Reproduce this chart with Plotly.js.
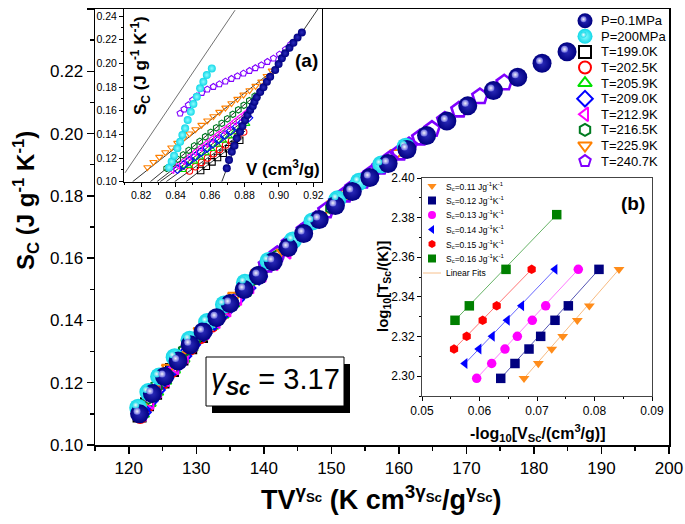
<!DOCTYPE html>
<html><head><meta charset="utf-8">
<script src="https://cdn.plot.ly/plotly-3.0.1.min.js"></script>
<style>html,body{margin:0;padding:0;background:#fff}#chart{width:685px;height:524px}</style>
</head><body><div id="chart"></div>
<script>
// ================= DATA =================
// Main panel: S_c vs T*V^gamma
const navyMainX = [121.6,123.5,125.3,127.3,129.1,131.0,133.0,135.0,137.1,139.2,141.4,143.6,145.9,148.2,150.6,153.1,155.7,158.4,161.2,164.1,167.1,170.2,174.0,177.6,181.2,184.9];
const navyMainS = [0.1100,0.1165,0.1220,0.1270,0.1322,0.1364,0.1409,0.1454,0.1499,0.1544,0.1589,0.1634,0.1679,0.1724,0.1769,0.1814,0.1859,0.1904,0.1949,0.1994,0.2040,0.2089,0.2138,0.2181,0.2226,0.2263];
const cyanMainX = [121.4,122.9,124.5,126.8,129.0,131.6,134.1,137.2,140.7,144.3,147.2,150.9,154.1,157.4,161.0];

// Inset (a): S_c vs V
const navyV = [0.8697,0.8710,0.8726,0.8741,0.8755,0.8774,0.8788,0.8803,0.8817,0.8833,0.8848,0.8858,0.8871,0.8891,0.8910,0.8930,0.8949,0.8978,0.8998,0.9017,0.9036,0.9061,0.9084,0.9108,0.9133];
const navyS = [0.1113,0.1183,0.1253,0.1304,0.1367,0.1422,0.1471,0.1521,0.1564,0.1606,0.1640,0.1676,0.1713,0.1758,0.1798,0.1845,0.1887,0.1944,0.1994,0.2043,0.2085,0.2132,0.2174,0.2220,0.2262];
const cyanV = [0.8362,0.8377,0.8391,0.8410,0.8426,0.8439,0.8455,0.8470,0.8488,0.8503,0.8523,0.8542,0.8561,0.8581,0.8610];
const cyanS = [0.1120,0.1170,0.1220,0.1282,0.1338,0.1395,0.1451,0.1521,0.1591,0.1657,0.1718,0.1789,0.1845,0.1901,0.1958];

const t199V = [0.8545,0.8578,0.8611,0.8643,0.8676,0.8709,0.8741,0.8772];
const t199S = [0.1095,0.1131,0.1168,0.1204,0.1241,0.1278,0.1314,0.1350];
const t199X = [121.6,122.7,123.9,125.0,126.4,127.8,129.1,130.7];

const t202V = [0.8480,0.8515,0.8550,0.8585,0.8620,0.8655,0.8690,0.8725,0.8760,0.8795];
const t202S = [0.1090,0.1127,0.1163,0.1200,0.1236,0.1273,0.1310,0.1346,0.1383,0.1420];
const t202X = [121.7,122.8,123.8,125.0,126.3,127.8,129.1,130.6,132.3,133.8];

const t205V = [0.8440,0.8474,0.8507,0.8541,0.8574,0.8608,0.8642,0.8675,0.8709,0.8742,0.8776,0.8810];
const t205S = [0.1100,0.1135,0.1171,0.1206,0.1242,0.1277,0.1313,0.1348,0.1384,0.1419,0.1455,0.1490];
const t205X = [122.0,123.0,124.1,125.3,126.6,128.0,129.2,130.7,132.3,133.8,135.4,137.1];

const t209V = [0.8410,0.8445,0.8479,0.8514,0.8548,0.8583,0.8617,0.8652,0.8686,0.8720,0.8755,0.8789,0.8823];
const t209S = [0.1105,0.1141,0.1177,0.1214,0.1250,0.1286,0.1322,0.1359,0.1395,0.1431,0.1467,0.1504,0.1540];
const t209X = [122.1,123.1,124.2,125.4,126.8,128.1,129.4,131.1,132.7,134.3,135.9,137.6,139.3];

const t212V = [0.8380,0.8413,0.8446,0.8479,0.8512,0.8545,0.8578,0.8611,0.8644,0.8677,0.8710,0.8743,0.8776,0.8809,0.8842];
const t212S = [0.1100,0.1137,0.1174,0.1211,0.1249,0.1286,0.1323,0.1360,0.1397,0.1434,0.1471,0.1509,0.1546,0.1583,0.1620];
const t212X = [122.1,123.2,124.3,125.5,126.9,128.3,129.6,131.3,133.0,134.6,136.2,138.0,139.8,141.6,143.5];

const t216V = [0.8348,0.8380,0.8412,0.8444,0.8476,0.8508,0.8540,0.8572,0.8604,0.8636,0.8668,0.8700,0.8732,0.8764,0.8796,0.8828,0.8860,0.8891];
const t216S = [0.1113,0.1151,0.1189,0.1227,0.1265,0.1303,0.1341,0.1380,0.1418,0.1456,0.1494,0.1532,0.1570,0.1608,0.1646,0.1685,0.1723,0.1761];
const t216X = [121.8,122.9,124.1,125.4,126.9,128.2,129.8,131.5,133.2,134.9,136.7,138.4,140.1,142.1,143.8,145.7,147.9,150.0];

const t225V = [0.8236,0.8271,0.8305,0.8340,0.8375,0.8410,0.8445,0.8480,0.8515,0.8550,0.8584,0.8619,0.8654,0.8689,0.8724,0.8759,0.8794,0.8829,0.8864,0.8898,0.8929,0.8959];
const t225S = [0.1121,0.1166,0.1209,0.1248,0.1288,0.1327,0.1366,0.1406,0.1442,0.1479,0.1516,0.1552,0.1589,0.1625,0.1662,0.1699,0.1735,0.1772,0.1809,0.1845,0.1893,0.1938];
const t225X = [121.7,123.0,124.4,125.9,127.4,128.8,130.6,132.4,134.0,135.7,137.3,139.1,140.9,142.7,144.5,146.4,148.3,150.3,152.3,154.4,157.2,159.7];

const t240V = [0.8426,0.8449,0.8474,0.8499,0.8523,0.8552,0.8584,0.8619,0.8654,0.8689,0.8724,0.8759,0.8794,0.8829,0.8863,0.8898,0.8933,0.8968,0.9003,0.9038,0.9069];
const t240S = [0.1578,0.1612,0.1648,0.1690,0.1724,0.1752,0.1781,0.1803,0.1825,0.1848,0.1870,0.1893,0.1916,0.1938,0.1961,0.1986,0.2014,0.2043,0.2076,0.2119,0.2163];
const t240X = [140.4,142.0,143.8,146.0,147.7,149.2,150.8,152.0,153.2,154.6,155.9,157.2,158.6,160.1,161.5,163.1,164.9,166.8,168.9,172.0,175.6];

// Inset (a) fitted straight lines: [V0, S0, V1, S1]
const fit199 = [0.8460,0.100,0.8790,0.1370];
const fit202 = [0.8394,0.100,0.8805,0.1430];
const fit205 = [0.8345,0.100,0.8820,0.1500];
const fit209 = [0.8310,0.100,0.8835,0.1553];
const fit212 = [0.8291,0.100,0.8860,0.1640];
const fit216 = [0.8253,0.100,0.8905,0.1778];
const fit225 = [0.8150,0.100,0.9000,0.1980];
const fitNavyLow = [0.8668,0.100,0.8850,0.1700];
const fitNavyHigh = [0.8800,0.155,0.9250,0.2510];
const fitExtra = [0.8106,0.1075,0.8745,0.245];

// Inset (b): log10(T_Sc) vs -log10(V_Sc)
const sc011X = [0.06774,0.07023,0.07256,0.07447,0.07701,0.07910,0.08426];
const sc011Y = [2.2989,2.3064,2.3137,2.3201,2.3282,2.3355,2.3539];
const sc012X = [0.06369,0.06617,0.06861,0.07064,0.07313,0.07545,0.08078];
const sc012Y = [2.2989,2.3064,2.3137,2.3201,2.3282,2.3355,2.3539];
const sc013X = [0.05951,0.06212,0.06443,0.06658,0.06918,0.07151,0.07718];
const sc013Y = [2.2989,2.3064,2.3137,2.3201,2.3282,2.3355,2.3539];
const sc014X = [0.05748,0.05991,0.06223,0.06484,0.06734,0.07313];
const sc014Y = [2.3064,2.3137,2.3201,2.3282,2.3355,2.3539];
const sc015X = [0.05557,0.05777,0.06055,0.06299,0.06907];
const sc015Y = [2.3137,2.3201,2.3282,2.3355,2.3539];
const sc016X = [0.05574,0.05823,0.06461,0.07343];
const sc016Y = [2.3282,2.3355,2.3539,2.3815];

const mainLegendLabels = ['P=0.1MPa','P=200MPa','T=199.0K','T=202.5K','T=205.9K','T=209.0K','T=212.9K','T=216.5K','T=225.9K','T=240.7K'];
const insetBLegendLabels = ['S<sub>c</sub>=0.11 Jg<sup>-1</sup>K<sup>-1</sup>','S<sub>c</sub>=0.12 Jg<sup>-1</sup>K<sup>-1</sup>','S<sub>c</sub>=0.13 Jg<sup>-1</sup>K<sup>-1</sup>','S<sub>c</sub>=0.14 Jg<sup>-1</sup>K<sup>-1</sup>','S<sub>c</sub>=0.15 Jg<sup>-1</sup>K<sup>-1</sup>','S<sub>c</sub>=0.16 Jg<sup>-1</sup>K<sup>-1</sup>','Linear Fits'];
const gammaValue = '3.17';

// ================= STYLE / LAYOUT =================
const W = 685, H = 524;
const FONT = 'Arial, "Liberation Sans", sans-serif';
const fx = p => p / W;
const fy = p => 1 - p / H;
const MAIN = {l:95, r:669, t:9, b:445};
const INA = {l:124, r:322, t:9, b:181.7};
const INB = {l:422, r:652, t:178, b:396};

const NAVY = '#000080', NAVY_C = '#2a2ab8';
const CYAN = '#10d8e8', CYAN_C = '#8ffcff';
const iso = [
  {x:t199X, v:t199V, s:t199S, sym:'square-open', col:'#000000', fit:fit199},
  {x:t202X, v:t202V, s:t202S, sym:'circle-open', col:'#ff0000', fit:fit202},
  {x:t205X, v:t205V, s:t205S, sym:'triangle-up-open', col:'#00e000', fit:fit205},
  {x:t209X, v:t209V, s:t209S, sym:'diamond-open', col:'#0000ff', fit:fit209},
  {x:t212X, v:t212V, s:t212S, sym:'triangle-left-open', col:'#ff00ff', fit:fit212},
  {x:t216X, v:t216V, s:t216S, sym:'hexagon-open', col:'#007a20', fit:fit216},
  {x:t225X, v:t225V, s:t225S, sym:'triangle-down-open', col:'#ff8000', fit:fit225},
  {x:t240X, v:t240V, s:t240S, sym:'pentagon-open', col:'#8000ff', fit:null}
];

const traces = [];
const sphere = (x, y, xa, ya, size, edge, center) => ({
  x, y, xaxis:xa, yaxis:ya, mode:'markers', showlegend:false, hoverinfo:'skip',
  marker:{size, color:edge, line:{width:0}, gradient:{type:'radial', color:center}}
});
const hilite = (x, y, xa, ya, size, edge) => ({
  x, y, xaxis:xa, yaxis:ya, mode:'markers', showlegend:false, hoverinfo:'skip',
  marker:{size, color:edge, opacity:0.95, line:{width:0}, gradient:{type:'radial', color:'#ffffff'}}
});
const fitLine = (f, xa, ya, col, w) => ({
  x:[f[0], f[2]], y:[f[1], f[3]], xaxis:xa, yaxis:ya, mode:'lines', showlegend:false, hoverinfo:'skip',
  line:{color:col, width:w}
});

// ---- main panel ----
iso.forEach((d, i) => {
  const big = i === 7;
  traces.push({x:d.x, y:d.s, xaxis:'x', yaxis:'y', mode:'markers', showlegend:false, hoverinfo:'skip',
    marker:{symbol:d.sym, color:d.col, size: big ? 16 : 12, line:{width: big ? 2.6 : 2}}});
});
traces.push(sphere(cyanMainX, cyanS, 'x', 'y', 18, CYAN, CYAN_C));
traces.push(sphere(navyMainX, navyMainS, 'x', 'y', 19, NAVY, NAVY_C));
traces.push(hilite(cyanMainX, cyanS, 'x5', 'y5', 7, CYAN));
traces.push(hilite(navyMainX, navyMainS, 'x5', 'y5', 7, '#6a6ae0'));

// ---- inset (a) ----
iso.forEach(d => { if (d.fit) traces.push(fitLine(d.fit, 'x2', 'y2', '#000', 0.8)); });
traces.push(fitLine(fitNavyLow, 'x2', 'y2', '#000', 0.8));
traces.push(fitLine(fitNavyHigh, 'x2', 'y2', '#000', 0.8));
traces.push(fitLine(fitExtra, 'x2', 'y2', '#333', 0.7));
iso.forEach(d => {
  traces.push({x:d.v, y:d.s, xaxis:'x2', yaxis:'y2', mode:'markers', showlegend:false, hoverinfo:'skip',
    marker:{symbol:d.sym, color:d.col, size:6.5, line:{width:1.1}}});
});
traces.push(sphere(cyanV, cyanS, 'x2', 'y2', 8, CYAN, CYAN_C));
traces.push(sphere(navyV, navyS, 'x2', 'y2', 8, NAVY, NAVY_C));

// ---- inset (b) ----
const bSeries = [
  {x:sc011X, y:sc011Y, sym:'triangle-down', col:'#ff8c1a', fit:'#f5a860'},
  {x:sc012X, y:sc012Y, sym:'square', col:'#000080', fit:'#2a2aa0'},
  {x:sc013X, y:sc013Y, sym:'circle', col:'#ff00ff', fit:'#ff55ff'},
  {x:sc014X, y:sc014Y, sym:'triangle-left', col:'#0000ff', fit:'#4040ff'},
  {x:sc015X, y:sc015Y, sym:'hexagon', col:'#ff0000', fit:'#ff5050'},
  {x:sc016X, y:sc016Y, sym:'square', col:'#008000', fit:'#40a040'}
];
bSeries.forEach(d => {
  traces.push({x:[d.x[0], d.x[d.x.length-1]], y:[d.y[0], d.y[d.y.length-1]], xaxis:'x3', yaxis:'y3',
    mode:'lines', showlegend:false, hoverinfo:'skip', line:{color:d.fit, width:0.8}});
});
bSeries.forEach(d => {
  traces.push({x:d.x, y:d.y, xaxis:'x3', yaxis:'y3', mode:'markers', showlegend:false, hoverinfo:'skip',
    marker:{symbol:d.sym, color:d.col, size:9.5, line:{width:0}}});
});

// ---- hand-built legends on a full-figure pixel overlay (x4/y4) ----
const LEG = {mx:585, tx:599, y0:20.7, step:15.6};
const legStyles = [
  {type:'sphere', edge:NAVY, center:NAVY_C, hl:'#6a6ae0'},
  {type:'sphere', edge:CYAN, center:CYAN_C, hl:CYAN}
].concat(iso.map(d => ({type:'open', sym:d.sym, col:d.col})));
const annotations = [];
mainLegendLabels.forEach((lab, i) => {
  const yy = LEG.y0 + i * LEG.step;
  const st = legStyles[i];
  if (st.type === 'sphere') {
    traces.push(sphere([LEG.mx], [yy], 'x4', 'y4', 15, st.edge, st.center));
    traces.push(hilite([LEG.mx - 1.5], [yy - 1.5], 'x4', 'y4', 6, st.hl));
  } else {
    traces.push({x:[LEG.mx], y:[yy], xaxis:'x4', yaxis:'y4', mode:'markers', showlegend:false, hoverinfo:'skip',
      marker:{symbol:st.sym, color:st.col, size:12, line:{width:2}}});
  }
  annotations.push({xref:'paper', yref:'paper', x:fx(LEG.tx), y:fy(yy), xanchor:'left', yanchor:'middle',
    text:lab, showarrow:false, font:{family:FONT, size:13, color:'#000'}});
});
const LEGB = {mx:432, tx:440, y0:186, step:14.5};
insetBLegendLabels.forEach((lab, i) => {
  const yy = LEGB.y0 + i * LEGB.step;
  if (i < bSeries.length) {
    const d = bSeries[i];
    traces.push({x:[LEGB.mx], y:[yy], xaxis:'x4', yaxis:'y4', mode:'markers', showlegend:false, hoverinfo:'skip',
      marker:{symbol:d.sym, color:d.col, size:8, line:{width:0}}});
  } else {
    traces.push({x:[LEGB.mx - 9, LEGB.mx + 9], y:[yy, yy], xaxis:'x4', yaxis:'y4', mode:'lines', showlegend:false,
      hoverinfo:'skip', line:{color:'#f5b070', width:0.8}});
  }
  annotations.push({xref:'paper', yref:'paper', x:fx(LEGB.tx + 4), y:fy(yy), xanchor:'left', yanchor:'middle',
    text:lab, showarrow:false, font:{family:FONT, size:8.5, color:'#000'}});
});

// ---- titles and labels ----
const ann = (px, py, text, size, extra) => Object.assign({xref:'paper', yref:'paper', x:fx(px), y:fy(py),
  xanchor:'center', yanchor:'middle', text, showarrow:false, font:{family:FONT, size, color:'#000'}}, extra || {});
annotations.push(ann(26, 201, '<b>S<sub>C</sub> (J g<sup>-1</sup> K<sup>-1</sup>)</b>', 24, {textangle:-90}));
annotations.push(ann(381, 498, '<b>TV<sup>γ<sub>Sc</sub></sup> (K cm<sup>3γ<sub>Sc</sub></sup>/g<sup>γ<sub>Sc</sub></sup>)</b>', 27));
annotations.push(ann(141, 66, '<b>S<sub>C</sub> (J g<sup>-1</sup> K<sup>-1</sup>)</b>', 17, {textangle:-90}));
annotations.push(ann(283, 168, '<b>V (cm<sup>3</sup>/g)</b>', 17));
annotations.push(ann(306, 61, '<b>(a)</b>', 19));
annotations.push(ann(633, 203, '<b>(b)</b>', 19));
annotations.push(ann(383, 287, '<b>log<sub>10</sub>[T<sub>Sc</sub>/(K)]</b>', 15, {textangle:-90}));
annotations.push(ann(537, 433, '<b>-log<sub>10</sub>[V<sub>Sc</sub>/(cm<sup>3</sup>/g)]</b>', 16));
annotations.push(ann(275, 381, '<i>γ<sub><b>Sc</b></sub></i> = ' + gammaValue, 29));

const BOX = {l:206, t:357, r:344, b:406, dx:6, dy:7};
const shapes = [
  {type:'rect', xref:'paper', yref:'paper', x0:fx(BOX.l + BOX.dx), x1:fx(BOX.r + BOX.dx), y0:fy(BOX.b + BOX.dy), y1:fy(BOX.t + BOX.dy),
    fillcolor:'#000', line:{width:0}},
  {type:'rect', xref:'paper', yref:'paper', x0:fx(BOX.l), x1:fx(BOX.r), y0:fy(BOX.b), y1:fy(BOX.t),
    fillcolor:'#fff', line:{color:'#000', width:1}}
];

const axBase = {showgrid:false, zeroline:false, showline:true, mirror:true, linecolor:'#000', ticks:'outside',
  tickcolor:'#000', fixedrange:true};
const layout = {
  width:W, height:H, margin:{l:0, r:0, t:0, b:0}, paper_bgcolor:'#fff', plot_bgcolor:'rgba(0,0,0,0)',
  showlegend:false, font:{family:FONT, color:'#000'},
  xaxis: Object.assign({}, axBase, {domain:[fx(MAIN.l), fx(MAIN.r)], range:[115,200], dtick:10, tick0:0,
    ticklen:7, tickwidth:1.5, linewidth:1.5, tickfont:{size:17},
    minor:{ticks:'outside', ticklen:4, dtick:5, tickcolor:'#000', tickwidth:1.5}, anchor:'y'}),
  yaxis: Object.assign({}, axBase, {domain:[fy(MAIN.b), fy(MAIN.t)], range:[0.10,0.24], dtick:0.02, tick0:0,
    tickformat:'.2f', ticklen:7, tickwidth:1.5, linewidth:1.5, tickfont:{size:17},
    minor:{ticks:'outside', ticklen:4, dtick:0.01, tickcolor:'#000', tickwidth:1.5}, anchor:'x'}),
  xaxis5: {overlaying:'x', range:[115 + 2.5/6.753, 200 + 2.5/6.753], visible:false, fixedrange:true},
  yaxis5: {overlaying:'y', range:[0.10 - 2.5/3114, 0.24 - 2.5/3114], visible:false, fixedrange:true},
  xaxis2: Object.assign({}, axBase, {domain:[fx(INA.l), fx(INA.r)], range:[0.81,0.925], dtick:0.02, tick0:0,
    tickformat:'.2f', ticklen:4, linewidth:1, tickfont:{size:10.5},
    minor:{ticks:'outside', ticklen:2, dtick:0.01, tickcolor:'#000'}, anchor:'y2'}),
  yaxis2: Object.assign({}, axBase, {domain:[fy(INA.b), fy(INA.t)], range:[0.10,0.246], dtick:0.02, tick0:0,
    tickformat:'.2f', ticklen:4, linewidth:1, tickfont:{size:10.5},
    minor:{ticks:'outside', ticklen:2, dtick:0.01, tickcolor:'#000'}, anchor:'x2'}),
  xaxis3: Object.assign({}, axBase, {domain:[fx(INB.l), fx(INB.r)], range:[0.05,0.09], dtick:0.01, tick0:0,
    tickformat:'.2f', ticklen:4, linewidth:1, linecolor:'#444', tickfont:{size:12},
    minor:{ticks:'outside', ticklen:2, dtick:0.005, tickcolor:'#000'}, anchor:'y3'}),
  yaxis3: Object.assign({}, axBase, {domain:[fy(INB.b), fy(INB.t)], range:[2.29,2.40], dtick:0.02, tick0:0,
    tickformat:'.2f', ticklen:4, linewidth:1, linecolor:'#444', tickfont:{size:12},
    minor:{ticks:'outside', ticklen:2, dtick:0.01, tickcolor:'#000'}, anchor:'x3'}),
  xaxis4: {domain:[0,1], range:[0,W], visible:false, fixedrange:true, anchor:'y4'},
  yaxis4: {domain:[0,1], range:[H,0], visible:false, fixedrange:true, anchor:'x4'},
  annotations, shapes
};
traces.forEach(t => { if (t.xaxis === 'x4') t.cliponaxis = false; });
Plotly.newPlot('chart', traces, layout, {staticPlot:true, displayModeBar:false});
</script>
</body></html>
